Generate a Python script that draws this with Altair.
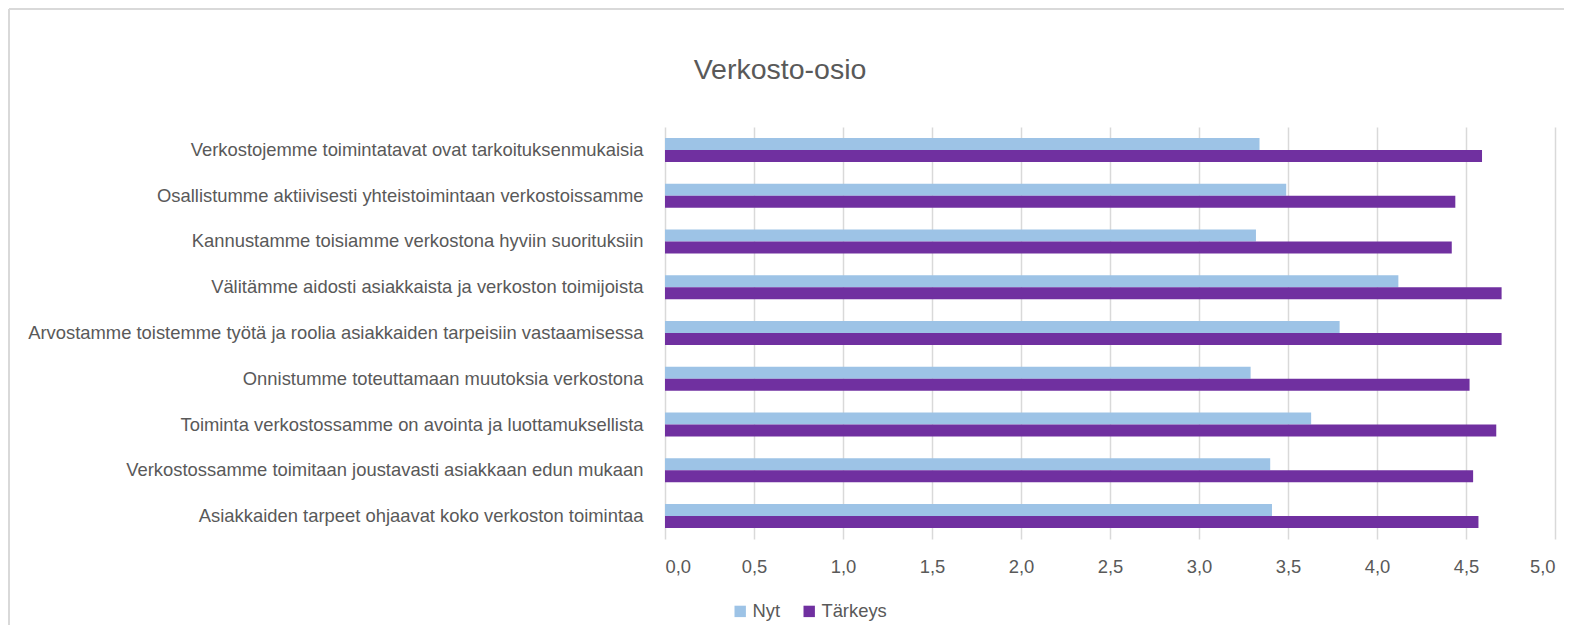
import altair as alt
import pandas as pd

categories = [
    "Verkostojemme toimintatavat ovat tarkoituksenmukaisia",
    "Osallistumme aktiivisesti yhteistoimintaan verkostoissamme",
    "Kannustamme toisiamme verkostona hyviin suorituksiin",
    "Välitämme aidosti asiakkaista ja verkoston toimijoista",
    "Arvostamme toistemme työtä ja roolia asiakkaiden tarpeisiin vastaamisessa",
    "Onnistumme toteuttamaan muutoksia verkostona",
    "Toiminta verkostossamme on avointa ja luottamuksellista",
    "Verkostossamme toimitaan joustavasti asiakkaan edun mukaan",
    "Asiakkaiden tarpeet ohjaavat koko verkoston toimintaa",
]
nyt = [3.34, 3.49, 3.32, 4.12, 3.79, 3.29, 3.63, 3.40, 3.41]
tarkeys = [4.59, 4.44, 4.42, 4.70, 4.70, 4.52, 4.67, 4.54, 4.57]
series = ["Nyt", "Tärkeys"]
colors = ["#9DC3E6", "#7030A0"]
x_ticks = [0, 0.5, 1, 1.5, 2, 2.5, 3, 3.5, 4, 4.5, 5]

rows = []
for c, a, b in zip(categories, nyt, tarkeys):
    rows.append({"Kategoria": c, "Sarja": series[0], "Arvo": a})
    rows.append({"Kategoria": c, "Sarja": series[1], "Arvo": b})
df = pd.DataFrame(rows)

FONT = "Liberation Sans"
TXT = "#595959"
FS = 18.4

bars = alt.Chart(df).mark_bar().encode(
    y=alt.Y("Kategoria:N", sort=categories,
            scale=alt.Scale(paddingInner=0.476, paddingOuter=0.238),
            axis=alt.Axis(title=None, ticks=False, domain=False, labelPadding=22,
                          labelFontSize=FS, labelColor=TXT, labelFont=FONT,
                          labelLimit=800)),
    yOffset=alt.YOffset("Sarja:N", sort=series,
                        scale=alt.Scale(paddingInner=0, paddingOuter=0)),
    x=alt.X("Arvo:Q", scale=alt.Scale(domain=[0, 5], nice=False),
            axis=alt.Axis(title=None, values=x_ticks, domain=False, ticks=False,
                          grid=True, gridColor="#D9D9D9", gridWidth=1.5,
                          labelExpr="replace(format(datum.value, '.1f'), '.', ',')",
                          labelFontSize=FS, labelColor=TXT, labelFont=FONT,
                          labelPadding=18)),
    color=alt.Color("Sarja:N", sort=series,
                    scale=alt.Scale(domain=series, range=colors),
                    legend=alt.Legend(title=None, orient="none", direction="horizontal",
                                      legendX=66, legendY=475, symbolType="square",
                                      symbolSize=130, symbolStrokeWidth=0,
                                      labelFontSize=FS, labelColor=TXT, labelFont=FONT,
                                      labelOffset=3, columnPadding=20)),
)

one = pd.DataFrame({"a": [0]})
frame_left = alt.Chart(one).mark_rule(stroke="#D9D9D9", strokeWidth=2).encode(
    x=alt.value(-656), y=alt.value(-118), y2=alt.value(498),
)
frame_top = alt.Chart(one).mark_rule(stroke="#D9D9D9", strokeWidth=2).encode(
    x=alt.value(-656), x2=alt.value(899), y=alt.value(-118),
)

chart = alt.layer(frame_left, frame_top, bars).properties(
    width=890,
    height=412,
    title=alt.TitleParams("Verkosto-osio", fontSize=28.5, font=FONT, color=TXT,
                          fontWeight="normal", anchor="middle", dx=-330, offset=0,
                          dy=76),
    autosize=alt.AutoSizeParams(type="none"),
    padding={"left": 657, "top": 119, "right": 10, "bottom": 86},
).configure_view(stroke=None)

chart.save("out.html", embed_options={"renderer": "svg", "actions": False})
